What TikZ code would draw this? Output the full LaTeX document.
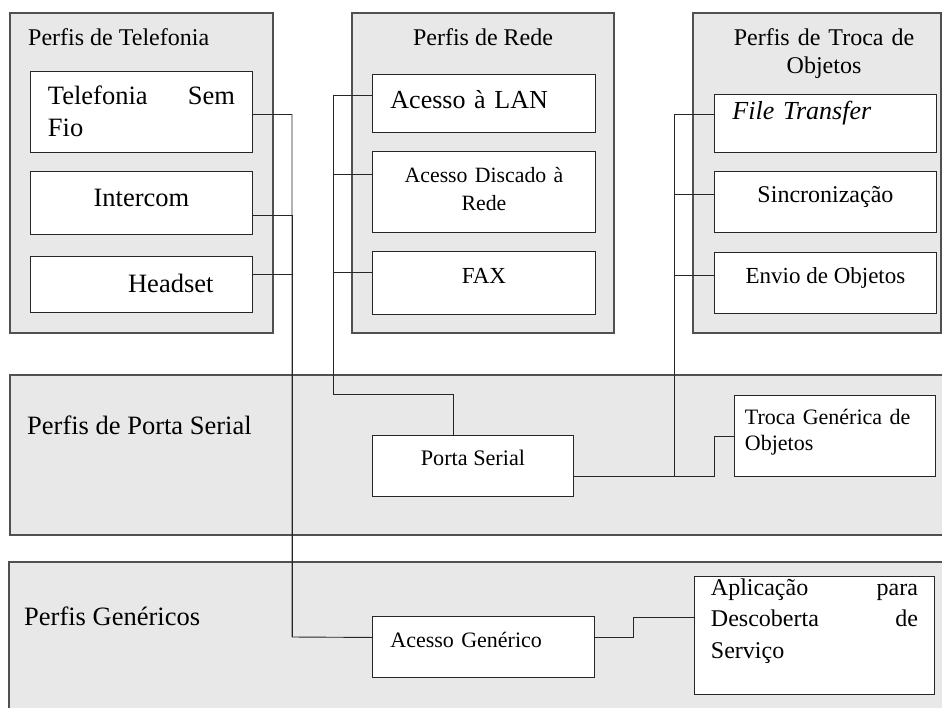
\documentclass[tikz,border=0pt]{standalone}
\usepackage{fontspec}
\setmainfont{Liberation Serif}
\usetikzlibrary{calc}

\definecolor{panelgrey}{HTML}{E8E8E8}
\definecolor{panelline}{HTML}{505050}

\tikzset{
    panel/.style={draw=panelline, fill=panelgrey, line width=1.4pt},
    prof/.style={draw=black!85, fill=white, line width=0.9pt, inner sep=0pt, anchor=north west},
    link/.style={draw=black!85, line width=0.9pt},
    head/.style={inner sep=0pt, font=\fontsize{24}{28}\selectfont},
    bighead/.style={inner sep=0pt, anchor=base west, font=\fontsize{26.5}{31}\selectfont},
    txtA/.style={font=\fontsize{26.5}{32}\selectfont},
    txtB/.style={font=\fontsize{24}{31.5}\selectfont},
    txtC/.style={font=\fontsize{22}{26}\selectfont},
}

\begin{document}
\begin{tikzpicture}[x=1pt, y=-1pt]
    \useasboundingbox (0,0) rectangle (942,707);
    \clip (0,0) rectangle (942,707);

    % grupos
    \draw[panel] (10,13) rectangle (273,333);
    \draw[panel] (352,13) rectangle (614,333);
    \draw[panel] (693,13) rectangle (941,333);
    \draw[panel] (10,375) rectangle (950,535);
    \draw[panel] (9,562) rectangle (950,720);

    \node[head, anchor=base west] (ttel) at (28,45) {Perfis de Telefonia};
    \node[head, anchor=base] (trede) at (483,45) {Perfis de Rede};
    \node[head, anchor=base, text width=200pt, align=center] (tobj) at (824,45) {Perfis de Troca de\\Objetos};
    \node[bighead] (tser) at (27,434) {Perfis de Porta Serial};
    \node[bighead] (tgen) at (24,625) {Perfis Genéricos};

    % telefonia
    \node[prof, txtA, minimum width=222pt, text height=32.7pt, text depth=48.3pt, text width=187pt, align=left] (tsf) at (30,71) {Telefonia\hfill Sem\\Fio};
    \node[prof, txtA, minimum width=222pt, text height=34.7pt, text depth=28.3pt] (intercom) at (30,171) {Intercom};
    \node[prof, txtA, minimum width=222pt, text height=35.7pt, text depth=20.3pt, text width=144pt, align=right] (headset) at (30,256) {Headset};

    % rede
    \node[prof, font=\fontsize{26}{31}\selectfont, minimum width=223pt, text height=34.5pt, text depth=23.5pt, text width=187pt, align=left] (lan) at (372,74) {Acesso à LAN};
    \node[prof, font=\fontsize{21.8}{28}\selectfont, minimum width=223pt, text height=31.2pt, text depth=49.8pt, text width=200pt, align=center] (discado) at (372,151) {Acesso Discado à\\Rede};
    \node[prof, font=\fontsize{23}{28}\selectfont, minimum width=223pt, text height=31.6pt, text depth=31.4pt] (fax) at (372,251) {FAX};

    % troca de objetos
    \node[prof, font=\fontsize{26}{31}\selectfont\itshape, minimum width=222pt, text height=24.6pt, text depth=33.4pt, text width=186pt, align=left] (ftp) at (714,94) {File Transfer};
    \node[prof, txtB, minimum width=222pt, text height=31pt, text depth=30pt] (sinc) at (714,171) {Sincronização};
    \node[prof, font=\fontsize{23}{28}\selectfont, minimum width=222pt, text height=31.5pt, text depth=29.5pt] (envio) at (714,252) {Envio de Objetos};

    % porta serial
    \node[prof, font=\fontsize{22.2}{27}\selectfont, minimum width=201pt, text height=30.3pt, text depth=30.7pt] (porta) at (372,435) {Porta Serial};
    \node[prof, txtC, minimum width=201pt, text height=29.4pt, text depth=51.6pt, text width=180pt, align=left] (troca) at (734,395) {Troca Genérica de\\Objetos};

    % genericos
    \node[prof, font=\fontsize{22}{27}\selectfont, minimum width=222pt, text height=31.3pt, text depth=29.7pt, text width=186pt, align=left] (generico) at (372,616) {Acesso Genérico};
    \node[prof, txtB, minimum width=240pt, text height=19pt, text depth=99pt, text width=207pt, align=left] (aplic) at (694,576) {Aplicação\hfill para\\Descoberta\hfill de\\Serviço};

    % ligacoes
    \coordinate (telbus) at (292,637);
    \coordinate (redebus) at (333,394);
    \coordinate (objbus) at (674,476);

    \draw[link] ([yshift=-2.5pt]tsf.east) -| (telbus) -- ([yshift=9.5pt]generico.west);
    \draw[link] ([yshift=-12.5pt]intercom.east) -| (telbus);
    \draw[link] ([yshift=10pt]headset.east) -| (telbus);

    \draw[link] ([yshift=8pt]lan.west) -| (redebus) -| ([xshift=-19.5pt]porta.north);
    \draw[link] ([yshift=17.5pt]discado.west) -| (redebus);
    \draw[link] ([yshift=10.5pt]fax.west) -| (redebus);

    \draw[link] ([yshift=9pt]ftp.west) -| (objbus);
    \draw[link] ([yshift=7.5pt]sinc.west) -| (objbus);
    \draw[link] ([yshift=7.5pt]envio.west) -| (objbus);
    \draw[link] ([yshift=-10.5pt]porta.east) -| ([xshift=-20pt]troca.west) -- (troca.west);

    \draw[link] ([yshift=9.5pt]generico.east) -| ([xshift=-61pt,yshift=18pt]aplic.west) -- ([yshift=18pt]aplic.west);
\end{tikzpicture}
\end{document}
